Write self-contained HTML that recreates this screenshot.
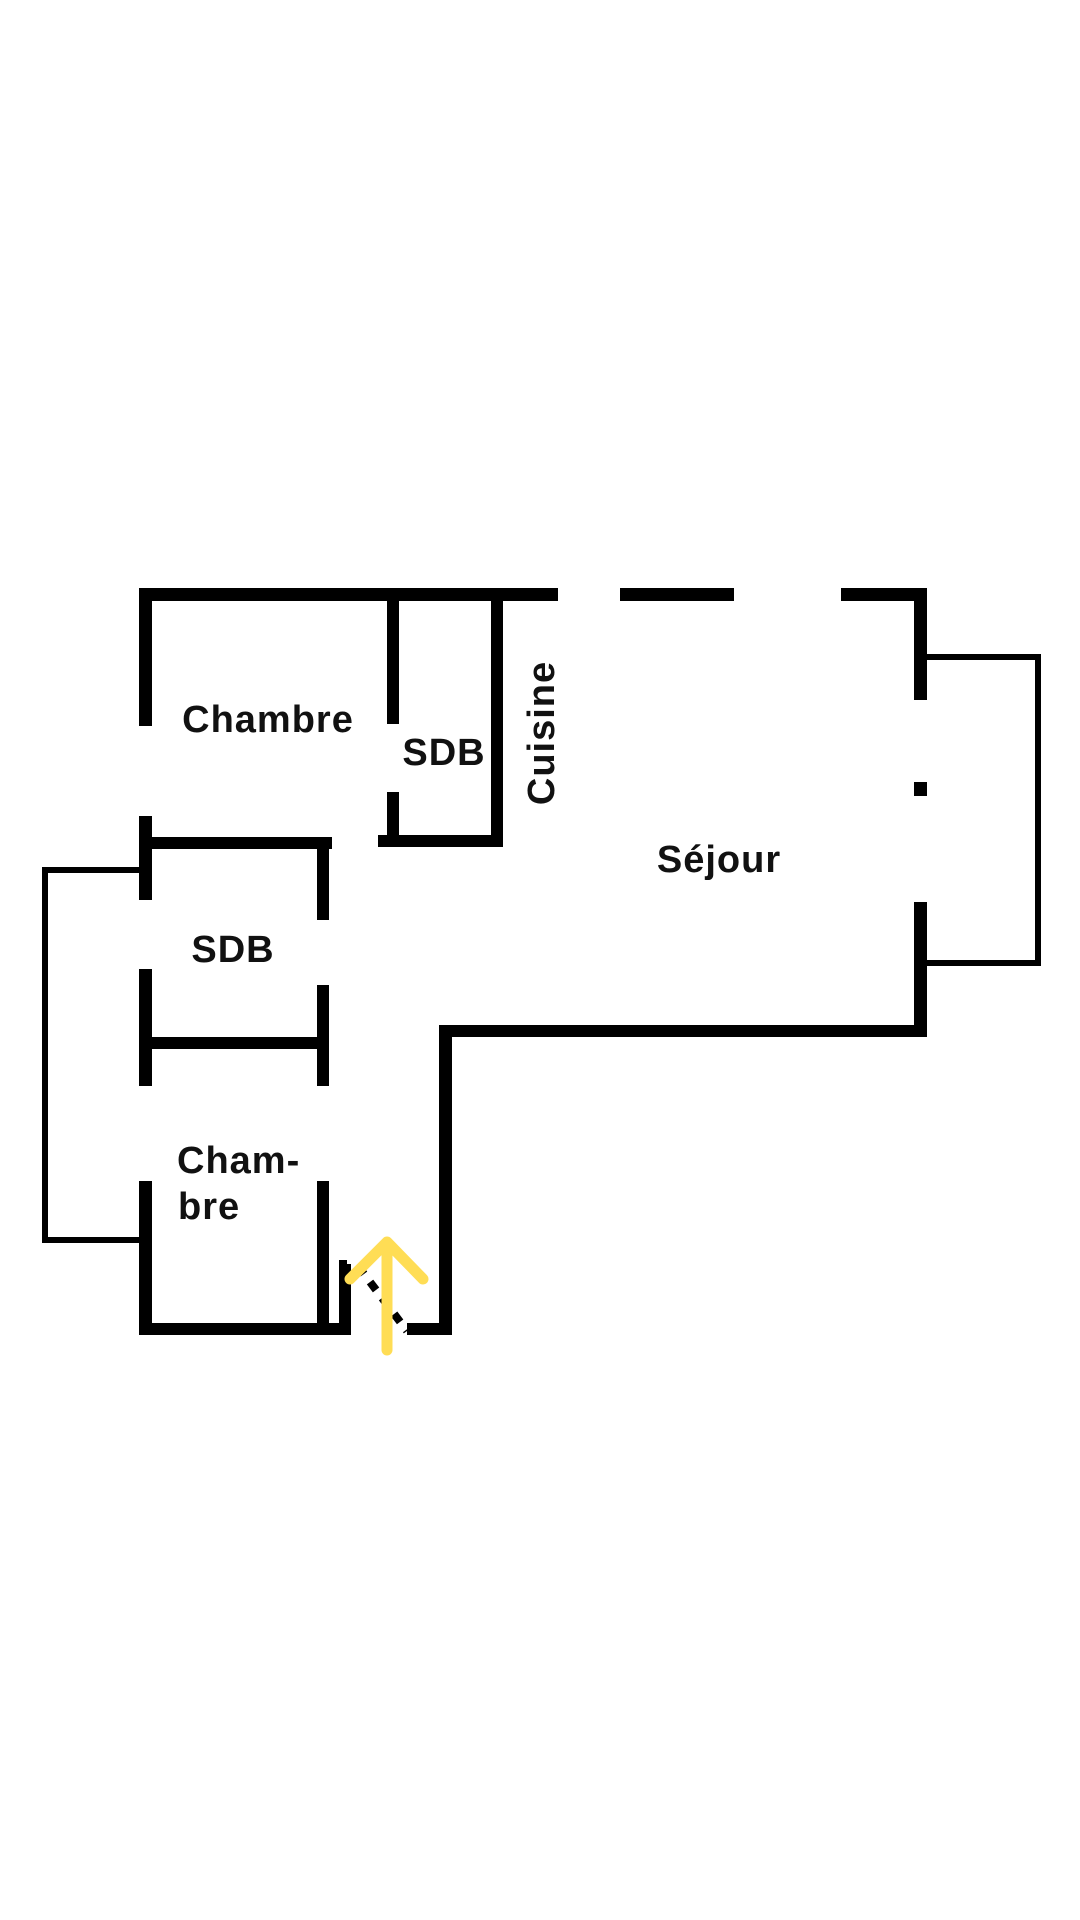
<!DOCTYPE html>
<html><head><meta charset="utf-8"><style>
html,body{margin:0;padding:0;background:#fff;}
svg{display:block;}
text{font-family:"Liberation Sans",sans-serif;font-weight:bold;font-size:38px;letter-spacing:1px;fill:#111;}
</style></head><body>
<svg width="1080" height="1920" viewBox="0 0 1080 1920" xmlns="http://www.w3.org/2000/svg">
<g fill="#000">
<!-- top walls -->
<rect x="139" y="588" width="419" height="13"/>
<rect x="620" y="588" width="114" height="13"/>
<rect x="841" y="588" width="86" height="13"/>
<!-- right wall -->
<rect x="914" y="588" width="13" height="112"/>
<rect x="914" y="782" width="13" height="14"/>
<rect x="914" y="902" width="13" height="135"/>
<!-- bottom of sejour -->
<rect x="439" y="1025" width="488" height="12"/>
<rect x="439" y="1025" width="13" height="310"/>
<rect x="407" y="1323" width="45" height="12"/>
<!-- chambre top left wall -->
<rect x="139" y="588" width="13" height="138"/>
<!-- SDB top walls -->
<rect x="387" y="601" width="12" height="123"/>
<rect x="387" y="792" width="12" height="55"/>
<rect x="491" y="601" width="12" height="246"/>
<rect x="378" y="835" width="125" height="12"/>
<!-- lower SDB -->
<rect x="139" y="816" width="13" height="84"/>
<rect x="139" y="837" width="193" height="12"/>
<rect x="317" y="837" width="12" height="83"/>
<rect x="139" y="969" width="13" height="117"/>
<rect x="317" y="985" width="12" height="101"/>
<rect x="139" y="1037" width="190" height="12"/>
<!-- lower chambre -->
<rect x="139" y="1181" width="13" height="154"/>
<rect x="139" y="1323" width="212" height="12"/>
<rect x="317" y="1181" width="12" height="142"/>
<rect x="339" y="1264" width="12" height="71"/>
<rect x="339" y="1260" width="8" height="8"/>
</g>
<!-- thin outlines -->
<g fill="none" stroke="#000" stroke-width="6">
<polyline points="927,657 1038,657 1038,963 927,963"/>
<polyline points="139,870 45,870 45,1240 139,1240"/>
</g>
<!-- door swing -->
<line x1="358" y1="1266" x2="407" y2="1331" stroke="#000" stroke-width="8" stroke-dasharray="10,10"/>
<!-- arrow -->
<g stroke="#FFDD55" stroke-width="11" stroke-linecap="round" stroke-linejoin="round" fill="none">
<line x1="387" y1="1246" x2="387" y2="1350"/>
<polyline points="350,1279 387,1242 423,1279"/>
</g>
<text x="268" y="732" text-anchor="middle">Chambre</text>
<text x="444" y="765" text-anchor="middle">SDB</text>
<text x="233" y="962" text-anchor="middle">SDB</text>
<text x="719" y="872" text-anchor="middle">Séjour</text>
<text x="177" y="1173">Cham-</text>
<text x="178" y="1219">bre</text>
<text transform="translate(554,733) rotate(-90)" text-anchor="middle">Cuisine</text>
</svg>
</body></html>
